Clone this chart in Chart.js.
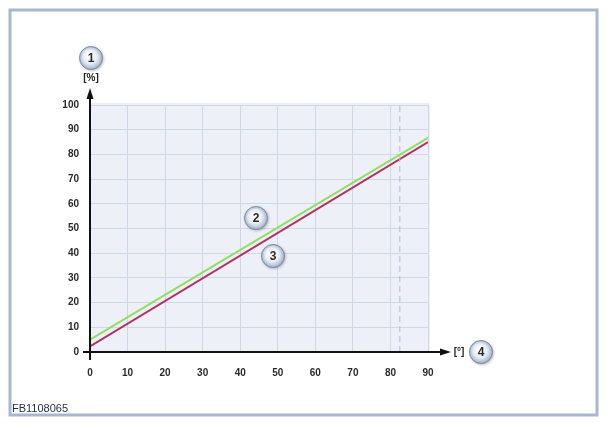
<!DOCTYPE html>
<html>
<head>
<meta charset="utf-8">
<script src="https://cdn.jsdelivr.net/npm/chart.js@4"></script>
<style>
  html, body { margin: 0; padding: 0; background: #fff; }
  #wrap { width: 607px; height: 426px; }
</style>
</head>
<body>
<div id="wrap"><canvas id="myChart" width="607" height="426"></canvas></div>
<script>
// data
const angle = [0, 90];
const curveUpper = [5, 86.7];   // green, marker 2
const curveLower = [2.3, 85];   // magenta, marker 3
const markAngle = 82.5;         // dashed vertical
const xTicks = [0, 10, 20, 30, 40, 50, 60, 70, 80, 90];
const yTicks = [0, 10, 20, 30, 40, 50, 60, 70, 80, 90, 100];

const frame = {
  id: "frame",
  beforeDraw(chart) {
    const c = chart.ctx, a = chart.chartArea;
    c.save();
    c.fillStyle = "#fff";
    c.fillRect(0, 0, chart.width, chart.height);
    c.strokeStyle = "#a7b7cf";
    c.lineWidth = 3;
    c.strokeRect(10, 10, 587, 405);
    c.fillStyle = "#edf1f7";
    c.fillRect(a.left, a.top - 2, a.right - a.left + 2, a.bottom - a.top + 2);
    c.restore();
  },
  afterDraw(chart) {
    const c = chart.ctx, a = chart.chartArea;
    c.save();
    // axes with arrows
    c.strokeStyle = "#111";
    c.fillStyle = "#111";
    c.lineWidth = 2;
    c.beginPath();
    c.moveTo(a.left, a.bottom + 8);
    c.lineTo(a.left, 96);
    c.moveTo(a.left - 7, a.bottom);
    c.lineTo(442, a.bottom);
    c.stroke();
    c.beginPath();
    c.moveTo(a.left, 88); c.lineTo(a.left - 3.5, 99); c.lineTo(a.left + 3.5, 99);
    c.closePath(); c.fill();
    c.beginPath();
    c.moveTo(451, a.bottom); c.lineTo(440, a.bottom - 3.5); c.lineTo(440, a.bottom + 3.5);
    c.closePath(); c.fill();

    c.font = "bold 10px 'Liberation Sans', Arial, sans-serif";
    c.fillStyle = "#222";
    c.textAlign = "center";
    c.textBaseline = "middle";
    c.fillText("[%]", a.left + 1, 78);
    c.fillText("[°]", 459, a.bottom);

    c.font = "11px 'Liberation Sans', Arial, sans-serif";
    c.fillStyle = "#1c2b4f";
    c.textAlign = "left";
    c.fillText("FB1108065", 12, 409);

    const badge = (x, y, t) => {
      c.save();
      c.shadowColor = "rgba(0,0,0,0.3)";
      c.shadowBlur = 3;
      c.shadowOffsetX = 1;
      c.shadowOffsetY = 1;
      const g = c.createRadialGradient(x - 2, y - 3, 1, x, y, 12);
      g.addColorStop(0, "#ffffff");
      g.addColorStop(0.55, "#e6ecf3");
      g.addColorStop(0.85, "#b4c2d6");
      g.addColorStop(1, "#8797b2");
      c.fillStyle = g;
      c.beginPath(); c.arc(x, y, 11.5, 0, Math.PI * 2); c.fill();
      c.restore();
      c.strokeStyle = "#8090aa";
      c.lineWidth = 1;
      c.beginPath(); c.arc(x, y, 11.5, 0, Math.PI * 2); c.stroke();
      c.font = "bold 12px 'Liberation Sans', Arial, sans-serif";
      c.fillStyle = "#2a2a2a";
      c.textAlign = "center";
      c.textBaseline = "middle";
      c.fillText(t, x, y + 0.5);
    };
    badge(a.left + 1, 58, "1");
    badge(256, 218, "2");
    badge(273, 256, "3");
    badge(481, a.bottom, "4");
    c.restore();
  }
};

const tickFont = { family: "'Liberation Sans', Arial, sans-serif", size: 10, weight: "bold" };

new Chart(document.getElementById("myChart"), {
  type: "scatter",
  data: {
    datasets: [
      {
        data: [{ x: markAngle, y: 0 }, { x: markAngle, y: 100 }],
        showLine: true, borderColor: "#a9b9d6", borderWidth: 1,
        borderDash: [6, 4], pointRadius: 0,
      },
      {
        data: angle.map((v, i) => ({ x: v, y: curveUpper[i] })),
        showLine: true, borderColor: "#8ee05c", borderWidth: 2, pointRadius: 0,
      },
      {
        data: angle.map((v, i) => ({ x: v, y: curveLower[i] })),
        showLine: true, borderColor: "#b03268", borderWidth: 2, pointRadius: 0,
      },
    ],
  },
  options: {
    responsive: false,
    animation: false,
    layout: { padding: { left: 0, top: 105, right: 179, bottom: 44 } },
    plugins: { legend: { display: false }, tooltip: { enabled: false } },
    scales: {
      x: {
        type: "linear", min: 0, max: 90,
        afterBuildTicks: (s) => { s.ticks = xTicks.map((v) => ({ value: v })); },
        afterFit: (s) => { s.height = 30; },
        grid: { color: "#cfd8e7", lineWidth: 1, drawTicks: false },
        border: { display: false },
        ticks: { font: tickFont, color: "#2a2a2a", padding: 15 },
      },
      y: {
        type: "linear", min: 0, max: 100,
        afterBuildTicks: (s) => { s.ticks = yTicks.map((v) => ({ value: v })); },
        afterFit: (s) => { s.width = 90; },
        grid: { color: "#cfd8e7", lineWidth: 1, drawTicks: false },
        border: { display: false },
        ticks: { font: tickFont, color: "#2a2a2a", padding: 11 },
      },
    },
  },
  plugins: [frame],
});
</script>
</body>
</html>
